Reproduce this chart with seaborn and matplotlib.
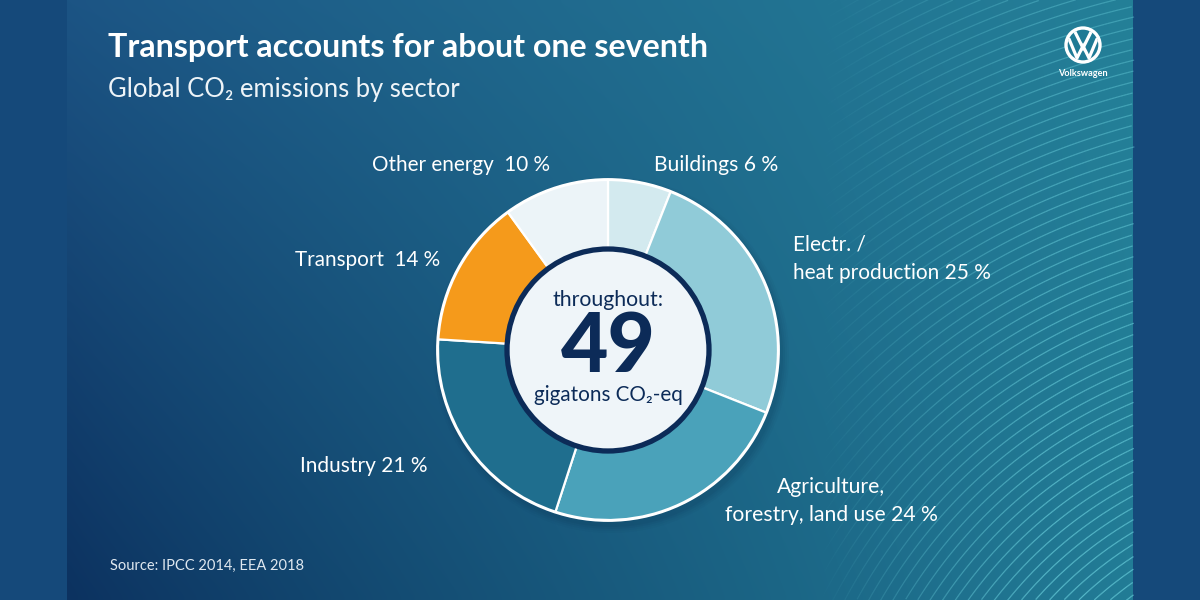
import numpy as np
import matplotlib
matplotlib.use("Agg")
import matplotlib.pyplot as plt
import seaborn as sns
from matplotlib.collections import LineCollection
from matplotlib.patches import Circle

# ---------------- data ----------------
sectors = ["Buildings", "Electr. /\nheat production", "Agriculture,\nforestry, land use",
           "Industry", "Transport", "Other energy"]
shares = [6, 25, 24, 21, 14, 10]
label_texts = ["Buildings 6 %", "Electr. /\nheat production 25 %",
               "Agriculture,\nforestry, land use 24 %", "Industry 21 %",
               "Transport  14 %", "Other energy  10 %"]
wedge_colors = ["#d3eaef", "#90cbd8", "#4aa2ba", "#1f6e8e", "#f59a1b", "#ecf4f8"]
total_value = "49"
center_top = "throughout:"
center_bottom = "gigatons CO\u2082-eq"
title = "Transport accounts for about one seventh"
subtitle = "Global CO\u2082 emissions by sector"
source = "Source: IPCC 2014, EEA 2018"

sns.set_theme(style="white")
FAM = ["Lato", "DejaVu Sans"]
plt.rcParams["font.family"] = FAM

W, H = 1200, 600
fig = plt.figure(figsize=(12, 6), dpi=100)
fig.patch.set_facecolor("#15497a")
ax = fig.add_axes([0, 0, 1, 1])
ax.set_xlim(0, W)
ax.set_ylim(H, 0)
ax.axis("off")

# ---------------- background panel ----------------
PX0, PX1 = 67, 1133
nx, ny = 200, 100
u = np.linspace(0, 1, nx)[None, :, None]
v = np.linspace(0, 1, ny)[:, None, None]
TL = np.array([28, 84, 132]) / 255
TR = np.array([36, 128, 152]) / 255
BL = np.array([12, 50, 96]) / 255
BR = np.array([34, 124, 150]) / 255
uu = u ** 0.9
grad = (TL * (1 - uu) * (1 - v) + TR * uu * (1 - v) + BL * (1 - uu) * v + BR * uu * v)
ax.imshow(grad, extent=[PX0, PX1, H, 0], aspect="auto", zorder=0, interpolation="bicubic")

# curved decorative lines
cx, cy = 1330, 860
segs, cols = [], []
for r in np.arange(330, 1050, 10.5):
    th = np.linspace(np.pi * 0.5, np.pi * 1.0, 400)
    xs = cx + r * np.cos(th)
    ys = cy - r * np.sin(th)
    pts = np.column_stack([xs, ys])
    for i in range(len(pts) - 1):
        xm, ym = (pts[i, 0] + pts[i + 1, 0]) / 2, (pts[i, 1] + pts[i + 1, 1]) / 2
        if xm < 800 or xm > PX1 or ym < 0 or ym > H:
            continue
        a = np.clip((xm - 820) / 230, 0, 1) * (0.38 + 0.32 * ym / H)
        segs.append(pts[i:i + 2])
        cols.append((0.42, 0.82, 0.87, a))
lc = LineCollection(segs, colors=cols, linewidths=0.9, zorder=1)
ax.add_collection(lc)

# ---------------- donut ----------------
CX, CY, R = 608, 350, 170
# soft shadow
for k, al in enumerate([0.06, 0.05, 0.04, 0.03]):
    ax.add_patch(Circle((CX + 3, CY + 5), R + 2 + 2 * k, facecolor="#06203f", edgecolor="none",
                        alpha=al, zorder=2))
wedges, _ = ax.pie(shares, colors=wedge_colors, startangle=-90, counterclock=True,
                   radius=R, center=(CX, CY), frame=True,
                   wedgeprops=dict(width=72, edgecolor="white", linewidth=1.6))
for w_ in wedges:
    w_.set_zorder(3)
ax.set_xlim(0, W)
ax.set_ylim(H, 0)
ax.set_aspect("auto")
ax.axis("off")
ax.add_patch(Circle((CX, CY), R + 0.8, facecolor="none", edgecolor="white", lw=1.6, zorder=4))
ax.add_patch(Circle((CX, CY), 101, facecolor="#eff5f9", edgecolor="#0c2b58", lw=3.8, zorder=5))

fig.canvas.draw()
renderer = fig.canvas.get_renderer()


def fit(s, x, y, width, ha="left", size=14, **kw):
    t = ax.text(x, y, s, fontsize=size, ha=ha, va="center", **kw)
    bb = t.get_window_extent(renderer)
    t.set_fontsize(size * width / bb.width)
    return t


# center text
fit(center_top, 608, 300, 111, ha="center", color="#0c2b58", zorder=6)
fit(total_value, 608, 348, 95, ha="center", color="#0c2b58", fontweight="black", size=60, zorder=6)
fit(center_bottom, 608, 395, 149, ha="center", color="#0c2b58", zorder=6)

# sector labels
lab = dict(color="white", zorder=6)
fit(label_texts[0], 654, 165, 125, **lab)
ax.text(793, 259, label_texts[1], fontsize=15.0, ha="left", va="center", linespacing=1.55, **lab)
ax.text(831, 501, label_texts[2], fontsize=15.2, ha="center", va="center", linespacing=1.5, **lab)
fit(label_texts[3], 427, 466, 127, ha="right", **lab)
fit(label_texts[4], 440, 260, 145, ha="right", **lab)
fit(label_texts[5], 550, 165, 178, ha="right", **lab)

# title / subtitle / source
fit(title, 108, 48, 600, color="white", fontweight="bold", size=22)
fit(subtitle, 108, 90, 350, color="#eef4f8", fontweight="normal", size=18)
fit(source, 110, 566, 194, color="#dfe8f0", size=9)

# ---------------- VW logo ----------------
LX, LY, LR = 1083, 45, 17
ax.add_patch(Circle((LX, LY), LR, facecolor="#1f7a95", edgecolor="white", lw=2.4, zorder=6))
clip = Circle((LX, LY), LR - 1.5, transform=ax.transData)
vx = [LX - 8, LX, LX + 8]
vy = [LY - 13, LY + 3, LY - 13]
wx = [LX - 14, LX - 6, LX, LX + 6, LX + 14]
wy = [LY - 6, LY + 13, LY + 1, LY + 13, LY - 6]
for xs_, ys_ in ((vx, vy), (wx, wy)):
    ln, = ax.plot(xs_, ys_, color="white", lw=2.3, solid_joinstyle="miter", zorder=7)
    ln.set_clip_path(clip)
fit("Volkswagen", LX, 74, 50, ha="center", color="white", fontweight="bold", size=7)

fig.savefig("out.png", dpi=100, facecolor=fig.get_facecolor())
